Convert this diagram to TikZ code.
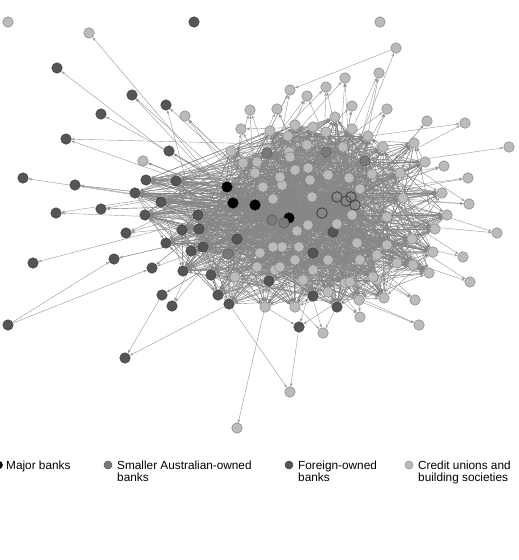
\documentclass[tikz,border=0pt]{standalone}
\usepackage{fontspec}
\setmainfont{Liberation Sans}
\usetikzlibrary{arrows.meta}
\pgfdeclarelayer{edges}
\pgfsetlayers{edges,main}
\definecolor{smallgrey}{HTML}{7A7A7A}
\definecolor{foreigngrey}{HTML}{555555}
\definecolor{creditgrey}{HTML}{BBBBBB}
\definecolor{linkgrey}{HTML}{969696}
\definecolor{coregrey}{HTML}{868686}

\begin{document}
\begin{tikzpicture}[x=1pt, y=-1pt, >={Stealth[length=3.5pt, width=2.6pt]},
  bank/.style={circle, inner sep=0pt, minimum size=10.5pt, line width=0.5pt},
  majorbank/.style={bank, fill=black, draw=black},
  smallbank/.style={bank, fill=smallgrey, draw=smallgrey!70!black},
  foreignbank/.style={bank, fill=foreigngrey, draw=foreigngrey!75!black},
  creditunion/.style={bank, fill=creditgrey, draw=creditgrey!70!black},
  hollowbank/.style={bank, draw=foreigngrey!80!black, line width=0.9pt},
  link/.style={->, draw=linkgrey, line width=0.4pt},
  corelink/.style={link, draw=coregrey},
  legendtext/.style={inner sep=0pt, align=left, font=\fontsize{11.8}{12.2}\selectfont}]
  \useasboundingbox (0,0) rectangle (519,560);
  \clip (0,0) rectangle (519,560);
  \pgfmathsetseed{2718}

  \foreach \x/\y/\t [count=\i] in {227/187/majorbank, 233/203/majorbank, 255/205/majorbank, 289/218/majorbank,
      337/197/hollowbank, 346/201/hollowbank, 351/197/hollowbank, 355/205/hollowbank, 322/213/hollowbank,
      267/153/smallbank, 326/152/smallbank, 365/161/smallbank, 284/223/smallbank, 272/220/smallbank, 228/254/smallbank,
      333/232/foreignbank, 313/253/foreignbank, 269/281/foreignbank, 313/296/foreignbank, 337/307/foreignbank,
      237/239/foreignbank, 203/247/foreignbank, 191/251/foreignbank, 183/271/foreignbank, 211/275/foreignbank,
      218/295/foreignbank, 229/304/foreignbank, 199/229/foreignbank, 182/230/foreignbank, 166/243/foreignbank,
      198/215/foreignbank, 145/215/foreignbank, 161/202/foreignbank, 135/193/foreignbank, 146/180/foreignbank,
      176/181/foreignbank,
      231/151/creditunion, 383/147/creditunion, 414/143/creditunion, 425/162/creditunion, 442/193/creditunion,
      447/215/creditunion, 435/229/creditunion, 412/239/creditunion, 433/252/creditunion, 429/273/creditunion,
      413/265/creditunion, 384/298/creditunion, 359/300/creditunion, 265/307/creditunion, 295/307/creditunion,
      235/277/creditunion, 295/125/creditunion, 313/127/creditunion, 335/117/creditunion, 270/131/creditunion,
      288/136/creditunion, 326/132/creditunion, 352/129/creditunion, 368/136/creditunion, 307/145/creditunion,
      343/147/creditunion, 289/152/creditunion, 308/168/creditunion, 328/175/creditunion, 372/174/creditunion,
      349/178/creditunion, 400/173/creditunion, 282/185/creditunion, 360/189/creditunion, 273/199/creditunion,
      312/197/creditunion, 403/198/creditunion, 352/215/creditunion, 387/217/creditunion, 308/225/creditunion,
      337/224/creditunion, 297/231/creditunion, 282/247/creditunion, 299/247/creditunion, 357/243/creditunion,
      387/245/creditunion, 295/260/creditunion, 328/260/creditunion, 360/260/creditunion, 377/255/creditunion,
      397/263/creditunion, 275/270/creditunion, 303/280/creditunion, 328/292/creditunion, 345/283/creditunion,
      377/280/creditunion, 260/253/creditunion, 273/247/creditunion, 280/267/creditunion, 257/267/creditunion,
      373/277/creditunion, 313/270/creditunion, 350/282/creditunion, 257/162/creditunion, 243/163/creditunion,
      290/157/creditunion, 280/177/creditunion, 255/173/creditunion, 263/187/creditunion, 295/170/creditunion,
      310/180/creditunion}{
    \node[\t] (k\i) at (\x,\y) {};
    \xdef\nk{\i}
  }

  \node[creditunion] (lone1) at (8,22) {};
  \node[foreignbank] (lone2) at (194,22) {};
  \node[creditunion] (lone3) at (380,22) {};
  \node[foreignbank] (west) at (8,325) {};
  \node[foreignbank] (low1) at (125,358) {};
  \node[creditunion] (low2) at (237,428) {};
  \node[creditunion] (low3) at (290,392) {};

  \foreach \x/\y/\t/\d [count=\i] in {89/33/creditunion/1, 57/68/foreignbank/1, 132/95/foreignbank/2,
      166/105/foreignbank/2, 185/116/creditunion/3, 101/114/foreignbank/1, 66/139/foreignbank/2,
      169/151/foreignbank/3, 143/161/creditunion/3, 23/178/foreignbank/1, 75/185/foreignbank/3,
      56/213/foreignbank/2, 101/209/foreignbank/3, 126/233/foreignbank/3, 33/263/foreignbank/1,
      114/259/foreignbank/2, 152/268/foreignbank/3, 162/295/foreignbank/2, 172/306/foreignbank/2,
      299/327/foreignbank/3, 323/333/creditunion/3, 360/317/creditunion/3, 419/325/creditunion/2,
      415/300/creditunion/3, 470/282/creditunion/2, 463/257/creditunion/2, 497/233/creditunion/2,
      469/204/creditunion/3, 468/178/creditunion/2, 509/147/creditunion/1, 465/123/creditunion/2,
      427/121/creditunion/2, 444/166/creditunion/3, 396/48/creditunion/1, 379/73/creditunion/3,
      345/78/creditunion/3, 326/87/creditunion/3, 290/90/creditunion/3, 307/96/creditunion/3,
      277/109/creditunion/3, 250/110/creditunion/3, 241/129/creditunion/3, 387/109/creditunion/3,
      352/106/creditunion/3}{
    \node[\t] (p\i) at (\x,\y) {};
    \begin{pgfonlayer}{edges}
      \foreach \j in {1,...,\d}{
        \pgfmathtruncatemacro\s{(\x<260 ? rnd<0.75 : rnd<0.5) ? (\x<260 ? random(1,4) : random(1,9)) : random(10,\nk)}
        \draw[link] (k\s) -- (p\i);
      }
    \end{pgfonlayer}
  }

  \begin{pgfonlayer}{edges}
    \draw[link] (west) -- (p16);
    \draw[link] (west) -- (p17);
    \draw[link] (p18) -- (low1);
    \draw[link] (k27) -- (low1);
    \draw[link] (p20) -- (low3);
    \draw[link] (k27) -- (low3);
    \draw[link] (k50) -- (low2);
    \draw[link] (p34) -- (p38);
    \foreach \e in {1,...,1700}{
      \pgfmathtruncatemacro\a{rnd<0.3 ? random(1,9) : random(1,\nk)}
      \pgfmathtruncatemacro\b{random(1,\nk)}
      \ifnum\a=\b\else\draw[corelink] (k\a) -- (k\b);\fi
    }
  \end{pgfonlayer}

  \node[majorbank, minimum size=8pt] (majorkey) at (-1.5,465) {};
  \node[legendtext, anchor=north west] (majortext) at (6,460.4) {Major banks};
  \node[smallbank, minimum size=8pt] (smallkey) at (108,465) {};
  \node[legendtext, anchor=north west] (smalltext) at (117,460.4) {Smaller Australian-owned\\banks};
  \node[foreignbank, minimum size=8pt] (foreignkey) at (289,465) {};
  \node[legendtext, anchor=north west] (foreigntext) at (298,460.4) {Foreign-owned\\banks};
  \node[creditunion, minimum size=8pt] (creditkey) at (409,465) {};
  \node[legendtext, anchor=north west] (credittext) at (418,460.4) {Credit unions and\\building societies};
\end{tikzpicture}
\end{document}
